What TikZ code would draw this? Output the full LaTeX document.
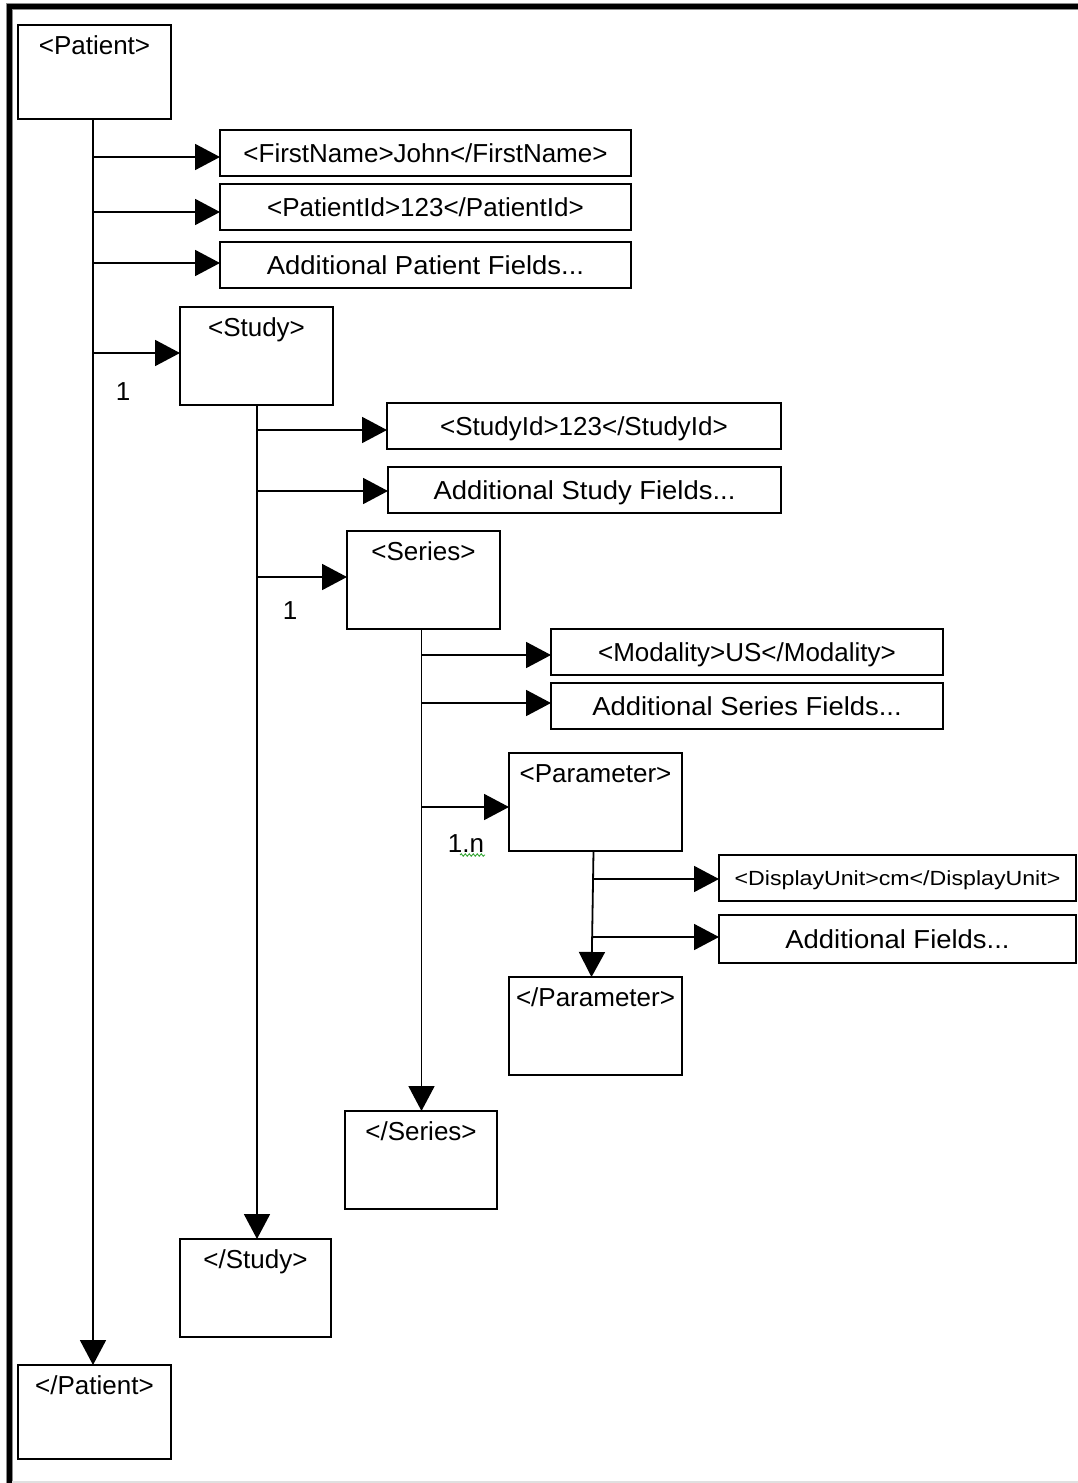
\documentclass[tikz,border=0pt]{standalone}
\usepackage{fontspec}
\setmainfont{Liberation Sans}
\usetikzlibrary{arrows.meta,decorations.pathmorphing}
\definecolor{squig}{rgb}{0.2,0.65,0.2}
\newcommand\widetxt[1]{\scalebox{1.055}[1]{#1}}
\begin{document}
\begin{tikzpicture}[x=1pt,y=-1pt,
  every node/.style={font=\fontsize{26}{31}\selectfont, inner sep=0pt, outer sep=0pt},
  box/.style={draw, line width=1.8pt, rectangle, anchor=north west},
  field/.style={box, minimum height=46pt, text height=18.6pt, text depth=0pt},
  tag/.style={box, inner ysep=11pt, text height=18.6pt},
  tagA/.style={tag, text depth=53.4pt},
  tagB/.style={tag, text depth=57.4pt},
  arr/.style={line width=1.8pt, -{Triangle[length=25pt,width=26pt]}},
  frameline/.style={line width=4.5pt, black},
  framehalo/.style={line width=7.5pt, black!45},
]
\useasboundingbox (0,0) rectangle (1078,1483);
% frame
\draw[framehalo] (1078,6.5) -- (9.5,6.5) -- (9.5,1483);
\draw[frameline] (1078,6.5) -- (9.5,6.5) -- (9.5,1483);
\draw[black!12, line width=1.5pt] (12,1482) -- (1078,1482);

% boxes
\node[tagA, minimum width=153pt] (pat) at (18,25) {<Patient>};
\node[field, minimum width=411pt] (fn) at (220,130) {<FirstName>John</FirstName>};
\node[field, minimum width=411pt] (pid) at (220,184) {<PatientId>123</PatientId>};
\node[field, minimum width=411pt] (apf) at (220,242) {\widetxt{Additional Patient Fields...}};
\node[tagB, minimum width=153pt] (st) at (180,307) {<Study>};
\node[field, minimum width=394pt] (sid) at (387,403) {<StudyId>123</StudyId>};
\node[field, minimum width=393pt] (asf) at (388,467) {\widetxt{Additional Study Fields...}};
\node[tagB, minimum width=153pt] (se) at (347,531) {<Series>};
\node[field, minimum width=392pt] (mod) at (551,629) {<Modality>US</Modality>};
\node[field, minimum width=392pt] (asef) at (551,683) {\widetxt{Additional Series Fields...}};
\node[tagB, minimum width=173pt] (par) at (509,753) {<Parameter>};
\node[field, minimum width=357pt, text height=14.7pt] (du) at (719,855)
  {\scalebox{1.13}[1]{\fontsize{20.5}{24}\selectfont <DisplayUnit>cm</DisplayUnit>}};
\node[field, minimum width=357pt, minimum height=48pt] (af) at (719,915) {\widetxt{Additional Fields...}};
\node[tagB, minimum width=173pt] (epar) at (509,977) {</Parameter>};
\node[tagB, minimum width=152pt] (ese) at (345,1111) {</Series>};
\node[tagB, minimum width=151pt] (est) at (180,1239) {</Study>};
\node[tagA, minimum width=153pt] (epat) at (18,1365) {</Patient>};

% multiplicity labels
\node (one1) at (123,392) {1};
\node (one2) at (290,611) {1};
\node (onen) at (466,844) {1.n};
\coordinate (sq1) at (460,855);
\coordinate (sq2) at (485,855);
\draw[squig, line width=0.9pt, decorate, decoration={snake, amplitude=1.2pt, segment length=4pt}] (sq1) -- (sq2);

% branch points
\coordinate (b1) at (93,157);
\coordinate (b2) at (93,212);
\coordinate (b3) at (93,263);
\coordinate (b4) at (93,353);
\coordinate (c1) at (257,430);
\coordinate (c2) at (257,491);
\coordinate (c3) at (257,577);
\coordinate (d1) at (421.5,655);
\coordinate (d2) at (421.5,703);
\coordinate (d3) at (421.5,807);
\coordinate (e1) at (593,879);
\coordinate (e2) at (592,937);

% trunks
\draw[arr] (pat.south -| b1) -- (epat.north -| b1);
\draw[arr] (st.south -| c1) -- (est.north -| c1);
\draw[arr] (se.south -| d1) -- (ese.north -| d1);
\draw[arr] ([xshift=-2pt]par.south) -- ([xshift=-4pt]epar.north);

% branches
\draw[arr] (b1) -- (fn.west |- b1);
\draw[arr] (b2) -- (pid.west |- b2);
\draw[arr] (b3) -- (apf.west |- b3);
\draw[arr] (b4) -- (st.west |- b4);
\draw[arr] (c1) -- (sid.west |- c1);
\draw[arr] (c2) -- (asf.west |- c2);
\draw[arr] (c3) -- (se.west |- c3);
\draw[arr] (d1) -- (mod.west |- d1);
\draw[arr] (d2) -- (asef.west |- d2);
\draw[arr] (d3) -- (par.west |- d3);
\draw[arr] (e1) -- (du.west |- e1);
\draw[arr] (e2) -- (af.west |- e2);
\end{tikzpicture}
\end{document}
